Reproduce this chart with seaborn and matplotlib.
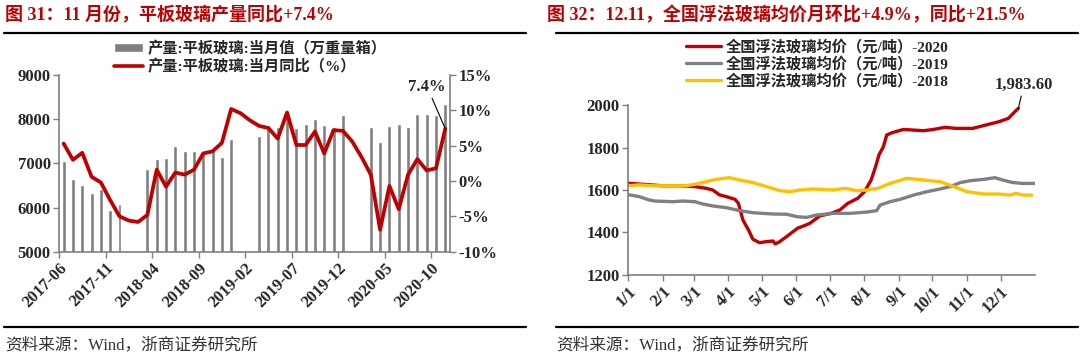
import numpy as np
import pandas as pd
import matplotlib
matplotlib.use('Agg')
import matplotlib.pyplot as plt
from matplotlib.patches import Patch
from matplotlib.lines import Line2D
from matplotlib.ticker import FuncFormatter
import seaborn as sns

# left chart: flat glass output, 2017-06 .. 2020-11
months = pd.period_range('2017-06', '2020-11', freq='M').strftime('%Y-%m').tolist()
output = [7060, 6650, 6510, 6320, 6430, 5950, 6070,
          np.nan, np.nan, 6870, 7100, 7120, 7390, 7290, 7290, 7230, 7300, 7150, 7560,
          np.nan, np.nan, 7620, 7860, 7815, 8050, 7790, 7890, 8000, 7860, 7815, 8090,
          np.nan, np.nan, 7815, 7480, 7840, 7890, 7815, 8120, 8120, 8090, 8340]
yoy = [5.3, 3.0, 4.0, 0.6, -0.2, -2.7, -5.0,
       -5.6, -5.8, -4.8, 1.6, -0.8, 1.2, 0.9, 1.6, 3.9, 4.2, 5.4, 10.2,
       9.6, 8.6, 7.8, 7.5, 6.0, 9.7, 5.1, 5.1, 7.0, 3.9, 7.2, 7.1,
       5.6, 3.4, 0.9, -6.9, -0.7, -4.0, 0.9, 3.1, 1.5, 1.8, 7.4]

# right chart: float glass average price (yuan/ton), x = day of year
days_2020 = [0, 10, 31, 46, 60, 70, 76, 82, 88, 96, 99, 103, 108, 112, 118, 124, 130, 132,
             136, 142, 148, 152, 158, 163, 172, 182, 190, 197, 206, 212, 218, 222, 225,
             229, 232, 237, 247, 256, 265, 274, 284, 294, 309, 321, 333, 341, 347, 350]
price_2020 = [1632, 1628, 1620, 1620, 1616, 1608, 1600, 1577, 1569, 1556, 1537, 1459, 1412,
              1368, 1352, 1357, 1360, 1346, 1357, 1380, 1404, 1420, 1432, 1443, 1478, 1490,
              1506, 1537, 1561, 1592, 1647, 1710, 1765, 1804, 1859, 1870, 1885, 1882, 1879,
              1885, 1895, 1890, 1890, 1906, 1922, 1937, 1969, 1984]
days_2019 = [0, 10, 19, 24, 40, 49, 60, 67, 76, 88, 100, 112, 121, 130, 142, 152, 160, 169,
             184, 199, 214, 223, 226, 235, 244, 256, 268, 280, 289, 298, 307, 319, 329, 336,
             345, 354, 365]
price_2019 = [1578, 1569, 1553, 1548, 1545, 1548, 1545, 1534, 1525, 1517, 1503, 1493, 1490,
              1487, 1486, 1474, 1471, 1482, 1490, 1490, 1496, 1503, 1529, 1545, 1556, 1576,
              1592, 1605, 1616, 1635, 1644, 1650, 1658, 1647, 1635, 1631, 1631]
days_2018 = [0, 10, 22, 40, 52, 60, 70, 79, 91, 100, 112, 124, 136, 145, 154, 166, 184, 195,
             205, 214, 224, 235, 250, 265, 280, 292, 304, 319, 333, 342, 348, 354, 362]
price_2018 = [1620, 1624, 1620, 1620, 1620, 1627, 1639, 1650, 1658, 1647, 1635, 1616, 1597,
              1592, 1600, 1605, 1600, 1608, 1597, 1600, 1608, 1631, 1655, 1647, 1639, 1616,
              1592, 1581, 1581, 1576, 1584, 1576, 1576]
month_ticks = [0, 31, 59, 90, 120, 151, 181, 212, 243, 273, 304, 334]
month_labels = ['1/1', '2/1', '3/1', '4/1', '5/1', '6/1', '7/1', '8/1', '9/1', '10/1', '11/1', '12/1']

RED = '#C00000'
GRAY = '#808080'
YELLOW = '#FFC000'
SPINE = '#7f7f7f'

sns.set_theme(style='white')
plt.rcParams['font.family'] = ['Liberation Serif', 'Noto Sans CJK SC']
plt.rcParams['axes.unicode_minus'] = False

fig = plt.figure(figsize=(10.8, 3.59), dpi=100)

tick_font = dict(fontsize=12, fontweight='bold')
legend_prop = {'family': ['Liberation Serif', 'Noto Sans CJK SC'], 'weight': 'bold', 'size': 11}


def style_spines(ax, sides):
    for s in ['left', 'right', 'top', 'bottom']:
        ax.spines[s].set_visible(s in sides)
        ax.spines[s].set_color(SPINE)
        ax.spines[s].set_linewidth(1.2)
    ax.tick_params(length=4, width=1, color=SPINE, direction='out', pad=2)


# ---------- left chart ----------
ax = fig.add_axes([0.0546, 0.299, 0.362, 0.492])
pos = np.arange(len(months))
sns.barplot(x=pos, y=output, native_scale=True, width=0.42, color=GRAY,
            saturation=1, errorbar=None, ax=ax)
ax.set_xlim(-0.5, len(months) - 0.5)
ax.set_ylim(5000, 9000)
ax.set_yticks(range(5000, 9001, 1000))
ax.set_yticklabels([str(v) for v in range(5000, 9001, 1000)], **tick_font)
xt = list(range(0, len(months), 5))
ax.set_xticks([i - 0.5 for i in xt])
ax.set_xticklabels([months[i] for i in xt], rotation=45, ha='right',
                   rotation_mode='anchor', **tick_font)
ax.set_xlabel('')
ax.set_ylabel('')
style_spines(ax, ['left', 'bottom'])
ax.tick_params(axis='both', left=True, bottom=True)

ax2 = ax.twinx()
sns.lineplot(x=pos, y=yoy, color=RED, lw=2.7, ax=ax2)
ax2.set_ylim(-10, 15)
ax2.set_yticks(range(-10, 16, 5))
ax2.yaxis.set_major_formatter(FuncFormatter(lambda v, _: f'{v:.0f}%'))
for t in ax2.get_yticklabels():
    t.set_fontsize(12)
    t.set_fontweight('bold')
style_spines(ax2, ['right'])
ax2.tick_params(axis='y', right=True)
ax2.annotate('7.4%', xy=(41, 7.4), xytext=(-13, 30), textcoords='offset points',
             ha='center', va='center', fontsize=12, fontweight='bold',
             arrowprops=dict(arrowstyle='-', color='black', lw=0.8, shrinkA=0, shrinkB=0))

ax.legend([Patch(facecolor=GRAY), Line2D([], [], color=RED, lw=2.6)],
          ['产量:平板玻璃:当月值（万重量箱）', '产量:平板玻璃:当月同比（%）'],
          loc='center', bbox_to_anchor=(0.232, 0.84), bbox_transform=fig.transFigure,
          frameon=False, prop=legend_prop, handlelength=1.9, handleheight=0.5,
          handletextpad=0.3, labelspacing=0.2, borderaxespad=0)

# ---------- right chart ----------
bx = fig.add_axes([0.5815, 0.234, 0.3769, 0.4735])
sns.lineplot(x=days_2020, y=price_2020, color=RED, lw=2.4, ax=bx,
             label='全国浮法玻璃均价（元/吨）-2020')
sns.lineplot(x=days_2019, y=price_2019, color=GRAY, lw=2.4, ax=bx,
             label='全国浮法玻璃均价（元/吨）-2019')
sns.lineplot(x=days_2018, y=price_2018, color=YELLOW, lw=2.4, ax=bx,
             label='全国浮法玻璃均价（元/吨）-2018')
bx.set_xlim(0, 365)
bx.set_ylim(1200, 2000)
bx.set_yticks(range(1200, 2001, 200))
bx.set_yticklabels([str(v) for v in range(1200, 2001, 200)], **tick_font)
bx.set_xticks(month_ticks)
bx.set_xticklabels(month_labels, rotation=45, ha='right', rotation_mode='anchor', **tick_font)
bx.set_xlabel('')
bx.set_ylabel('')
style_spines(bx, ['left', 'bottom'])
bx.tick_params(axis='both', left=True, bottom=True)
bx.annotate('1,983.60', xy=(days_2020[-1], price_2020[-1]), xytext=(4, 17),
            textcoords='offset points', ha='center', va='center',
            fontsize=12, fontweight='bold',
            arrowprops=dict(arrowstyle='-', color='black', lw=0.8, shrinkA=0, shrinkB=0))
bx.legend(loc='center', bbox_to_anchor=(0.757, 0.822), bbox_transform=fig.transFigure,
          frameon=False, prop=legend_prop, handlelength=2.3, handletextpad=0.3,
          labelspacing=0.15, borderaxespad=0)

# ---------- titles, rules, sources ----------
title_kw = dict(fontsize=13, fontweight='bold', color=RED, va='center', ha='left')
fig.text(5 / 1080, 1 - 15 / 359, '图 31：11 月份，平板玻璃产量同比+7.4%', **title_kw)
fig.text(547 / 1080, 1 - 15 / 359, '图 32：12.11，全国浮法玻璃均价月环比+4.9%，同比+21.5%', **title_kw)

for y in (1 - 33 / 359, 1 - 327 / 359):
    fig.add_artist(Line2D([4 / 1080, 526 / 1080], [y, y], color='black', lw=1.6))
    fig.add_artist(Line2D([556 / 1080, 1078 / 1080], [y, y], color='black', lw=1.6))

src_kw = dict(fontsize=12, color='#333333', va='center', ha='left')
fig.text(5 / 1080, 1 - 345 / 359, '资料来源：Wind，浙商证券研究所', **src_kw)
fig.text(556 / 1080, 1 - 345 / 359, '资料来源：Wind，浙商证券研究所', **src_kw)

fig.savefig('out.png', dpi=100)
